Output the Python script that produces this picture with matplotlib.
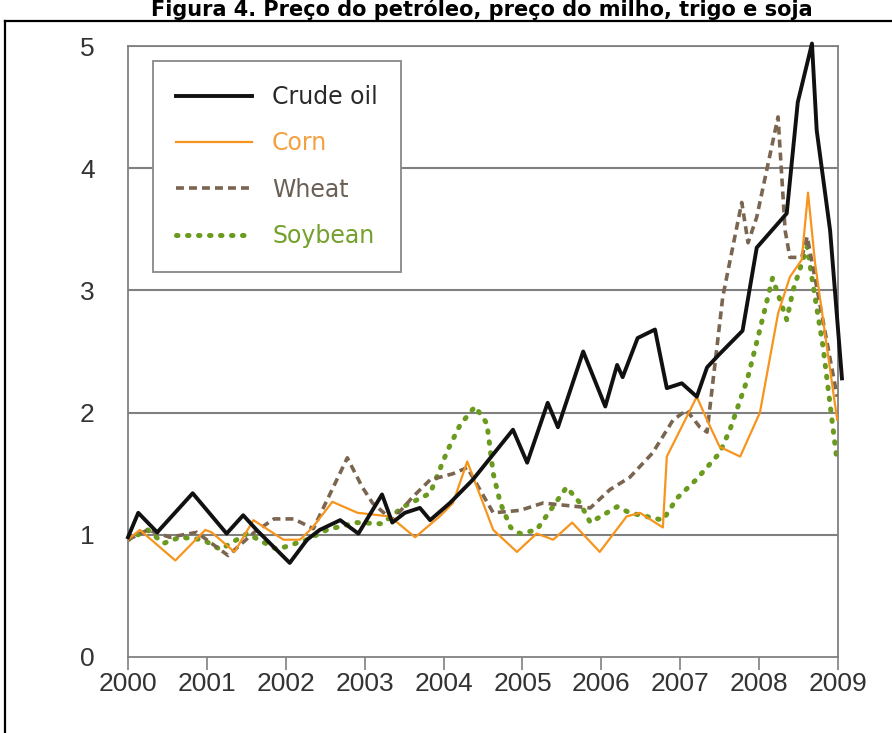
#libraries we will be working with
import matplotlib
matplotlib.use("Agg")
import matplotlib.pyplot as plt
from matplotlib.lines import Line2D

#data (year, price index 2000 = 1)
crude_years = [2000.0, 2000.13, 2000.37, 2000.82, 2001.25, 2001.46, 2001.63, 2002.05, 2002.27,
               2002.43, 2002.69, 2002.92, 2003.22, 2003.35, 2003.51, 2003.70, 2003.83, 2004.08,
               2004.37, 2004.88, 2005.06, 2005.32, 2005.45, 2005.77, 2006.05, 2006.20, 2006.27,
               2006.46, 2006.68, 2006.83, 2007.02, 2007.21, 2007.34, 2007.50, 2007.79, 2007.97,
               2008.35, 2008.49, 2008.67, 2008.73, 2008.90, 2009.05]
crude_vals = [0.98, 1.18, 1.02, 1.34, 1.01, 1.16, 1.04, 0.77, 0.96,
              1.04, 1.12, 1.01, 1.33, 1.10, 1.18, 1.22, 1.12, 1.26,
              1.45, 1.86, 1.59, 2.08, 1.88, 2.50, 2.05, 2.39, 2.29,
              2.61, 2.68, 2.20, 2.24, 2.13, 2.37, 2.48, 2.67, 3.35,
              3.63, 4.54, 5.02, 4.31, 3.49, 2.28]

corn_years = [2000.0, 2000.15, 2000.60, 2000.98, 2001.06, 2001.35, 2001.59, 2001.85, 2001.97,
              2002.18, 2002.34, 2002.59, 2002.91, 2003.32, 2003.64, 2003.95, 2004.12, 2004.30,
              2004.63, 2004.93, 2005.18, 2005.39, 2005.63, 2005.98, 2006.32, 2006.49, 2006.78,
              2006.83, 2007.21, 2007.34, 2007.50, 2007.76, 2008.01, 2008.24, 2008.39, 2008.54,
              2008.62, 2008.71, 2008.99]
corn_vals = [0.96, 1.04, 0.79, 1.04, 1.02, 0.86, 1.12, 1.01, 0.96,
             0.96, 1.06, 1.27, 1.18, 1.15, 0.98, 1.15, 1.26, 1.60,
             1.04, 0.86, 1.01, 0.96, 1.10, 0.86, 1.15, 1.18, 1.06,
             1.64, 2.13, 1.94, 1.72, 1.64, 2.00, 2.81, 3.11, 3.25,
             3.80, 3.22, 1.94]

wheat_years = [2000.0, 2000.25, 2000.53, 2000.87, 2001.27, 2001.60, 2001.85, 2002.10, 2002.35,
               2002.78, 2002.97, 2003.10, 2003.35, 2003.61, 2003.83, 2004.12, 2004.30, 2004.63,
               2004.97, 2005.26, 2005.86, 2006.11, 2006.36, 2006.65, 2006.91, 2007.08, 2007.25,
               2007.34, 2007.54, 2007.78, 2007.86, 2007.97, 2008.24, 2008.33, 2008.39, 2008.54,
               2008.61, 2008.99]
wheat_vals = [0.96, 1.04, 0.98, 1.02, 0.83, 1.02, 1.13, 1.13, 1.05,
              1.63, 1.39, 1.26, 1.12, 1.31, 1.45, 1.50, 1.55, 1.18,
              1.20, 1.26, 1.22, 1.37, 1.47, 1.67, 1.94, 2.02, 1.88,
              1.84, 2.95, 3.72, 3.39, 3.60, 4.42, 3.49, 3.27, 3.27,
              3.44, 2.13]

soy_years = [2000.0, 2000.25, 2000.45, 2000.66, 2000.95, 2001.17, 2001.51, 2001.89, 2002.27,
             2002.52, 2002.70, 2002.90, 2003.22, 2003.49, 2003.83, 2004.05, 2004.21, 2004.40,
             2004.55, 2004.63, 2004.72, 2004.85, 2004.97, 2005.18, 2005.56, 2005.73, 2005.86,
             2006.07, 2006.20, 2006.36, 2006.78, 2006.96, 2007.20, 2007.50, 2007.63, 2007.85,
             2008.01, 2008.17, 2008.35, 2008.43, 2008.61, 2008.68, 2008.81, 2008.99]
soy_vals = [0.96, 1.04, 0.93, 0.98, 0.96, 0.88, 1.01, 0.88, 0.96,
            1.04, 1.07, 1.10, 1.09, 1.23, 1.34, 1.69, 1.90, 2.05,
            1.91, 1.50, 1.26, 1.06, 1.01, 1.04, 1.39, 1.26, 1.10,
            1.18, 1.23, 1.18, 1.12, 1.30, 1.45, 1.67, 1.86, 2.27,
            2.68, 3.10, 2.76, 3.00, 3.36, 3.06, 2.54, 1.59]

year_ticks = list(range(2000, 2010))
value_ticks = [0, 1, 2, 3, 4, 5]
title = "Figura 4. Preço do petróleo, preço do milho, trigo e soja"

#figure
fig = plt.figure(figsize=(8.92, 7.33), dpi=100)
ax = fig.add_axes([128 / 892, 76 / 733, 710 / 892, 611 / 733])

grid_col = "#808080"
for v in value_ticks[1:]:
    ax.axhline(v, color=grid_col, lw=1.5, zorder=1)

ax.plot(crude_years, crude_vals, color="#111111", lw=2.8, label="Crude oil", zorder=5, clip_on=False)
ax.plot(corn_years, corn_vals, color="#f7941d", lw=1.6, label="Corn", zorder=4)
ax.plot(wheat_years, wheat_vals, color="#7a6650", lw=2.6, ls=(0, (2.2, 1.4)), label="Wheat", zorder=3)
ax.plot(soy_years, soy_vals, color="#6a9a1e", lw=3.6, ls=(0, (0.3, 1.9)),
        dash_capstyle="round", label="Soybean", zorder=2)

ax.set_xlim(2000, 2009)
ax.set_ylim(0, 5)
ax.set_xticks(year_ticks)
ax.set_yticks(value_ticks)

tick_font = ["Liberation Sans", "DejaVu Sans"]
ax.set_xticklabels([str(y) for y in year_ticks], family=tick_font, fontsize=19, color="#333333")
ax.set_yticklabels([str(v) for v in value_ticks], family=tick_font, fontsize=19, color="#333333")
ax.tick_params(axis="x", direction="out", length=9, width=1.2, color=grid_col, pad=1.5)
ax.tick_params(axis="y", length=0, pad=24)

for s in ax.spines.values():
    s.set_color(grid_col)
    s.set_linewidth(1.3)

leg = ax.legend(loc="upper left", bbox_to_anchor=(0.035, 0.975), borderaxespad=0,
                handlelength=3.2, handletextpad=0.85, labelspacing=0.95, borderpad=1.0,
                fancybox=False, edgecolor="#888888", framealpha=1,
                prop={"family": ["DejaVu Sans"], "size": 17})
leg.get_frame().set_linewidth(1.3)
leg_cols = ["#2a2a2a", "#f5a040", "#6a5f55", "#74a02c"]
for txt, c in zip(leg.get_texts(), leg_cols):
    txt.set_color(c)

#page frame and title
top = 1 - 21 / 733
fig.add_artist(Line2D([5 / 892, 5 / 892], [0, top], color="black", lw=1.6,
                      transform=fig.transFigure))
fig.add_artist(Line2D([5 / 892, 1], [top, top], color="black", lw=1.6,
                      transform=fig.transFigure))
fig.text(482 / 892, 1 - 16.5 / 733, title, ha="center", va="baseline", fontsize=15,
         fontweight="bold", family=["DejaVu Sans"])

fig.savefig("out.png", dpi=100)
